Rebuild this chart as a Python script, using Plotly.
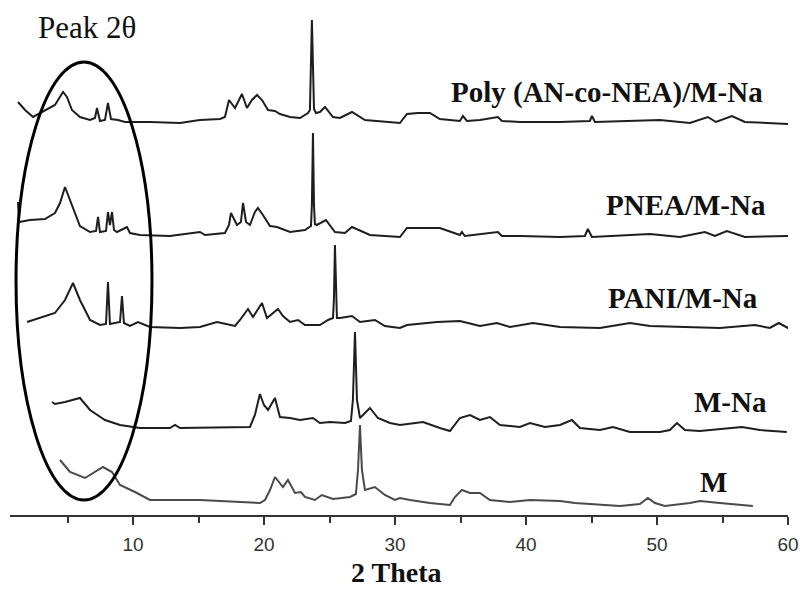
import plotly.graph_objects as go

# ---------------- data (2θ in degrees, stacked intensity in a.u.) ----------------
poly_x = [1.21, 1.75, 2.36, 3.27, 4.03, 4.65, 4.95, 5.33, 5.94, 6.71, 7.09, 7.24, 7.47, 7.85,
          8.08, 8.31, 8.84, 9.38, 11.29, 13.58, 15.10, 16.63, 17.01, 17.32, 17.78, 18.31,
          18.69, 19.07, 19.46, 19.84, 20.30, 20.83, 21.21, 21.98, 22.74, 23.35, 23.50, 23.65,
          23.81, 23.96, 24.26, 24.65, 25.26, 25.79, 26.71, 27.70, 28.84, 30.37, 30.91, 31.75,
          32.66, 33.42, 34.95, 35.18, 35.49, 36.48, 37.85, 38.16, 39.53, 42.59, 44.87, 45.03,
          45.26, 48.69, 50.22, 52.51, 53.88, 54.50, 55.72, 56.71, 60.14]
poly_y = [413, 405, 398, 405, 410, 423, 418, 405, 398, 395, 397, 407, 394, 395,
          412, 396, 395, 393, 393, 392, 395, 396, 398, 415, 407, 421,
          407, 415, 420, 415, 405, 404, 401, 398, 397, 402, 405, 495,
          406, 402, 403, 408, 398, 397, 403, 395, 394, 392, 401, 402,
          402, 396, 394, 399, 394, 395, 398, 394, 393, 393, 394, 399,
          393, 394, 395, 392, 398, 393, 399, 393, 391]

pnea_x = [1.21, 1.29, 2.13, 3.27, 4.03, 4.42, 4.80, 5.33, 5.94, 6.71, 7.17, 7.32, 7.47, 7.93,
          8.08, 8.23, 8.39, 8.54, 8.77, 9.53, 9.76, 10.52, 12.81, 15.10, 15.49, 17.01, 17.32,
          17.47, 17.93, 18.23, 18.39, 18.62, 18.92, 19.30, 19.53, 19.91, 20.45, 20.98, 21.98,
          23.12, 23.58, 23.65, 23.73, 23.81, 23.88, 24.03, 24.72, 25.41, 26.17, 26.71, 28.08,
          30.37, 30.91, 33.42, 34.95, 35.10, 35.33, 37.85, 38.16, 39.53, 42.59, 44.49, 44.72,
          45.03, 49.46, 51.75, 53.65, 54.42, 55.33, 56.71, 60.14]
pnea_y = [313, 293, 295, 296, 302, 312, 328, 310, 289, 283, 284, 298, 283, 284,
          303, 290, 303, 285, 283, 288, 282, 280, 279, 283, 280, 282, 290,
          302, 290, 293, 312, 293, 290, 303, 307, 300, 289, 288, 283,
          285, 289, 310, 382, 310, 291, 290, 295, 283, 282, 288, 280,
          278, 287, 287, 280, 283, 279, 283, 279, 279, 278, 279, 286,
          278, 281, 278, 283, 279, 284, 278, 279]

pani_x = [1.90, 2.89, 4.03, 4.80, 5.41, 5.94, 6.71, 7.47, 7.93, 8.08, 8.23, 9.00, 9.15, 9.30,
          9.76, 10.37, 11.29, 13.58, 15.10, 16.40, 17.78, 18.16, 18.77, 19.15, 19.84, 20.22,
          21.06, 21.44, 21.98, 22.59, 23.12, 24.26, 24.88, 25.26, 25.33, 25.41, 25.49, 25.56,
          25.79, 26.71, 27.32, 28.46, 29.22, 30.37, 30.91, 33.20, 34.95, 36.48, 37.78, 38.77,
          40.53, 42.59, 45.64, 47.93, 49.46, 53.27, 54.80, 57.47, 58.61, 59.30, 60.14]
pani_y = [193, 197, 202, 215, 232, 215, 195, 190, 191, 233, 191, 193, 219, 192,
          189, 193, 188, 187, 188, 193, 189, 195, 206, 198, 212, 197,
          206, 199, 193, 195, 190, 190, 195, 197, 215, 270, 215, 197,
          197, 199, 193, 195, 189, 187, 190, 193, 194, 189, 192, 188,
          192, 188, 187, 192, 189, 188, 187, 190, 187, 192, 186]

mna_x = [3.81, 4.03, 4.80, 5.94, 6.71, 7.85, 9.00, 10.52, 12.81, 13.20, 13.58, 18.92, 19.30,
         19.68, 19.99, 20.30, 20.83, 21.21, 21.98, 22.74, 23.73, 24.26, 25.03, 26.17, 26.63,
         26.78, 26.94, 27.09, 27.32, 28.08, 28.69, 29.61, 30.37, 31.13, 32.13, 33.42, 34.19,
         34.95, 35.72, 36.48, 37.24, 38.01, 39.53, 40.30, 41.44, 42.59, 43.50, 44.11, 45.64,
         46.63, 47.93, 50.22, 50.98, 51.52, 52.13, 53.27, 54.80, 56.48, 57.85, 59.91]
mna_y = [113, 111, 113, 117, 105, 95, 90, 87, 87, 90, 87, 88, 100,
         121, 110, 105, 117, 98, 97, 95, 97, 92, 93, 92, 94,
         115, 183, 115, 97, 107, 97, 92, 90, 91, 93, 87, 84,
         97, 100, 95, 98, 90, 88, 92, 88, 90, 95, 87, 85,
         88, 83, 83, 85, 92, 85, 84, 86, 88, 85, 83]

m_x = [4.42, 5.18, 6.33, 7.09, 7.70, 8.39, 9.00, 10.14, 11.29, 15.10, 19.68, 20.07, 20.45,
       20.83, 21.44, 21.82, 22.36, 22.81, 23.12, 23.88, 24.41, 25.26, 26.56, 27.01, 27.17,
       27.32, 27.47, 27.70, 28.46, 29.22, 29.99, 30.37, 31.13, 32.66, 34.19, 34.57, 35.10,
       35.72, 36.48, 37.24, 38.77, 40.30, 42.59, 43.73, 45.64, 47.17, 48.69, 49.30, 49.84,
       50.60, 52.51, 53.27, 54.80, 57.32]
m_y = [55, 43, 37, 43, 48, 43, 30, 23, 15, 15, 12, 15, 25,
       38, 28, 35, 22, 23, 18, 15, 20, 16, 18, 21, 45,
       90, 45, 25, 28, 20, 15, 17, 15, 12, 10, 18, 25,
       22, 22, 15, 13, 15, 14, 12, 10, 9, 11, 17, 12,
       9, 12, 14, 12, 9]

series_names = ["Poly (AN-co-NEA)/M-Na", "PNEA/M-Na", "PANI/M-Na", "M-Na", "M"]
series_x = [poly_x, pnea_x, pani_x, mna_x, m_x]
series_y = [poly_y, pnea_y, pani_y, mna_y, m_y]
series_colors = ["#1e1e1e", "#1e1e1e", "#1e1e1e", "#1e1e1e", "#4a4a4a"]

label_x = [46.2, 52.2, 52.0, 55.6, 54.3]
label_y = [423, 310, 217, 113, 33]

tick_vals = [10, 20, 30, 40, 50, 60]
tick_text = ["10", "20", "30", "40", "50", "60"]

# ---------------- figure ----------------
fig = go.Figure()
for name, xs, ys, col in zip(series_names, series_x, series_y, series_colors):
    fig.add_trace(go.Scatter(x=xs, y=ys, mode="lines", name=name,
                             line=dict(color=col, width=2), showlegend=False))

for name, lx, ly in zip(series_names, label_x, label_y):
    fig.add_annotation(x=lx, y=ly, xref="x", yref="y", text="<b>%s</b>" % name,
                       showarrow=False, xanchor="center", yanchor="middle",
                       font=dict(family="Liberation Serif", size=29, color="#111111"))

# highlighted low-angle region
fig.add_shape(type="circle", xref="x", yref="y", x0=1.06, x1=11.44, y0=15, y1=453,
              line=dict(color="black", width=3))
fig.add_annotation(x=6.48, y=488, xref="x", yref="y", text="Peak 2θ", showarrow=False,
                   xanchor="center", yanchor="middle",
                   font=dict(family="Liberation Serif", size=31, color="#111111"))

# axis title
fig.add_annotation(x=30.1, y=-0.1137, xref="x", yref="paper", text="<b>2 Theta</b>",
                   showarrow=False, xanchor="center", yanchor="middle",
                   font=dict(family="Liberation Serif", size=28, color="#111111"))

fig.update_xaxes(range=[0.6, 60], tickmode="array", tickvals=tick_vals, ticktext=tick_text,
                 ticks="outside", ticklen=8, tickwidth=2, tickcolor="#333333",
                 showline=True, linecolor="#333333", linewidth=2, showgrid=False,
                 zeroline=False, ticklabelstandoff=3,
                 tickfont=dict(family="Liberation Sans", size=19, color="#333333"),
                 minor=dict(tickvals=[5, 15, 25, 35, 45, 55], ticks="outside", ticklen=6,
                            tickwidth=2, tickcolor="#333333", showgrid=False))
fig.update_yaxes(range=[0, 510], visible=False, showgrid=False, zeroline=False)

fig.update_layout(width=810, height=590, margin=dict(l=10, r=22, t=5, b=75),
                  plot_bgcolor="white", paper_bgcolor="white")

fig.write_html("out.html", config={"displayModeBar": False},
               post_script="document.body.style.margin='0';")
